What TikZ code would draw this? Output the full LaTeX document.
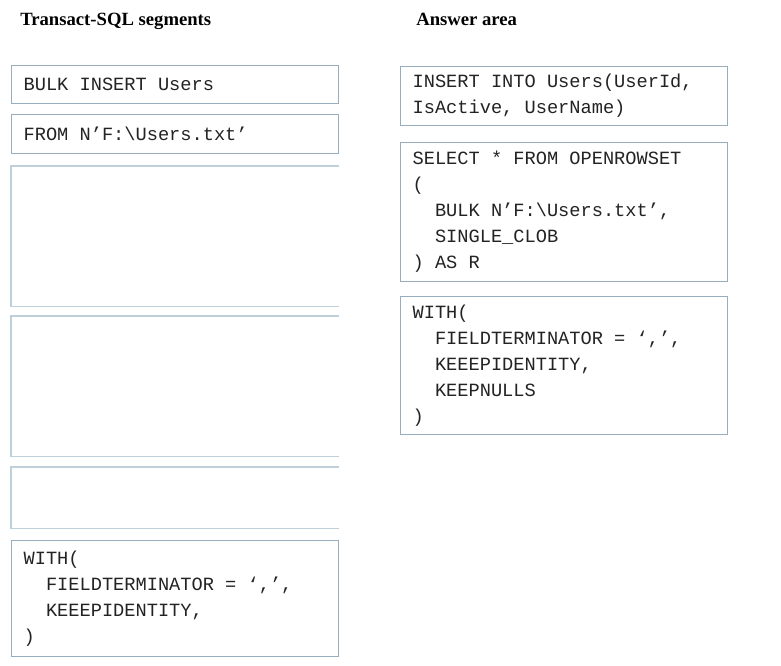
\documentclass[tikz,border=0pt]{standalone}
\usepackage{fontspec}
\setmainfont{Liberation Serif}
\setmonofont{Liberation Mono}
\definecolor{boxline}{RGB}{150,174,190}
\definecolor{faintline}{RGB}{192,208,219}
\definecolor{codetext}{RGB}{35,35,35}
\newcommand{\fixspace}{\spaceskip=\fontcharwd\font`X\relax}
\tikzset{
  segment/.style={draw=boxline, line width=0.9pt, anchor=north west,
    minimum width=245.25pt, text width=227.25pt, inner xsep=9pt, inner ysep=0pt,
    align=left, text=codetext, font=\fontsize{14}{19.5}\selectfont\ttfamily,
    execute at begin node=\fixspace},
  blank/.style={anchor=north west, minimum width=245.25pt, inner sep=0pt},
  heading/.style={anchor=base west, inner sep=0pt, text=black,
    font=\fontsize{14}{16}\selectfont\bfseries}
}
\newcommand{\ind}{\phantom{XX}}
\begin{document}
\begin{tikzpicture}[x=0.75pt,y=-0.75pt]
    \fill[white] (0,0) rectangle (781,665);
    \useasboundingbox (0,0) rectangle (781,665);

    \node[heading] (segtitle) at (20,25) {Transact-SQL segments};
    \node[heading] (anstitle) at (416,25) {Answer area};

    % segments
    \node[segment, minimum height=28.5pt] (bulk) at (11,65) {BULK INSERT Users};
    \node[segment, minimum height=29.25pt] (from) at (11,114) {FROM N’F:\textbackslash Users.txt’};
    \node[blank, minimum height=105pt] (gap1) at (11,166) {};
    \node[blank, minimum height=105pt] (gap2) at (11,316) {};
    \node[blank, minimum height=45.75pt] (gap3) at (11,467) {};
    \node[segment, minimum height=87pt] (with) at (11,540)
        {WITH(\\\ind FIELDTERMINATOR = ‘,’,\\\ind KEEEPIDENTITY,\\)};

    \foreach \g in {gap1,gap2,gap3}{
        \draw[faintline, line width=0.9pt] (\g.north east) -- (\g.north west) -- (\g.south west) -- (\g.south east);
    }

    % answer area
    \node[segment, minimum height=44.25pt] (insert) at (400,66)
        {INSERT INTO Users(UserId,\\IsActive, UserName)};
    \node[segment, minimum height=104.25pt] (select) at (400,142)
        {SELECT * FROM OPENROWSET\\(\\\ind BULK N’F:\textbackslash Users.txt’,\\\ind SINGLE\_CLOB\\) AS R};
    \node[segment, minimum height=103.5pt] (options) at (400,296)
        {WITH(\\\ind FIELDTERMINATOR = ‘,’,\\\ind KEEEPIDENTITY,\\\ind KEEPNULLS\\)};
\end{tikzpicture}
\end{document}
